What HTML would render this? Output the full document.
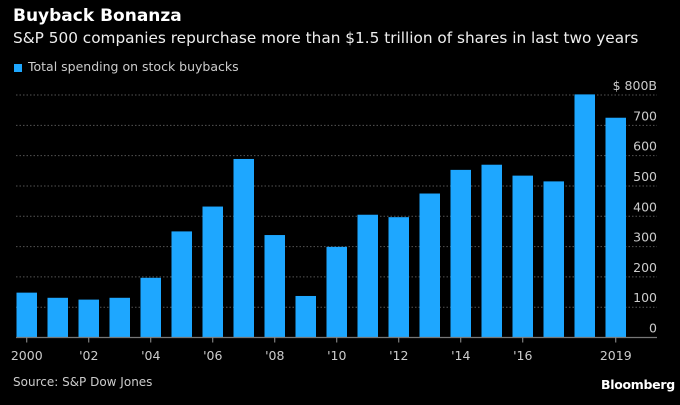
<!DOCTYPE html>
<html><head><meta charset="utf-8"><style>
body{margin:0;background:#000;width:680px;height:405px;overflow:hidden;font-family:"DejaVu Sans","Liberation Sans",sans-serif;color:#fff}
.t{position:absolute;white-space:nowrap}
</style></head><body>
<div class="t" style="left:13px;top:6px;font-size:17px;font-weight:bold">Buyback Bonanza</div>
<div class="t" style="left:13px;top:29px;font-size:15.3px;color:#eee">S&amp;P 500 companies repurchase more than $1.5 trillion of shares in last two years</div>
<div style="position:absolute;left:14px;top:64px;width:8px;height:8px;background:#1ea7ff"></div>
<div class="t" style="left:28px;top:59px;font-size:12.5px;color:#ccc">Total spending on stock buybacks</div>
<svg id="c" width="680" height="405" style="position:absolute;left:0;top:0"></svg>
<div class="t" style="left:13px;top:375px;font-size:12px;color:#ccc">Source: S&amp;P Dow Jones</div>
<div class="t" style="left:601px;top:377px;font-size:12.5px;font-weight:bold;letter-spacing:-0.3px">Bloomberg</div>
<script>
const years=[2000,2001,2002,2003,2004,2005,2006,2007,2008,2009,2010,2011,2012,2013,2014,2015,2016,2017,2018,2019];
const values=[148,131,125,131,197,350,432,589,338,137,299,405,397,475,553,570,534,515,802,725];
const yTicks=[0,100,200,300,400,500,600,700,800];
const yTickLabels=["0","100","200","300","400","500","600","700","$ 800B"];
const xLabels={2000:"2000",2002:"'02",2004:"'04",2006:"'06",2008:"'08",2010:"'10",2012:"'12",2014:"'14",2016:"'16",2019:"2019"};
const NS="http://www.w3.org/2000/svg";
const svg=document.getElementById('c');
const base=337.5, yTop=95, x0=16.5, pitch=31.0, bw=20.5;
const y=v=>base-(base-yTop)*v/800;
const x=i=>x0+i*pitch;
function mk(t,a){const e=document.createElementNS(NS,t);for(const k in a)e.setAttribute(k,a[k]);svg.appendChild(e);return e;}
yTicks.forEach((v,i)=>{
  if(v>0){const g=mk('line',{x1:16,x2:657,y1:y(v),y2:y(v),stroke:'#555','stroke-dasharray':'1.5,2','stroke-width':1});
  
  }
  const t=mk('text',{x:657,y:y(v)-5,'text-anchor':'end','font-size':12.5,fill:'#ccc','font-family':'DejaVu Sans, Liberation Sans, sans-serif'});
  t.textContent=yTickLabels[i];
  
  
});
values.forEach((v,i)=>{
  const r=mk('rect',{x:x(i),y:y(v),width:bw,height:base-y(v),fill:'#1ea7ff'});
  
  
});
const ax=mk('line',{x1:16,x2:657,y1:base,y2:base,stroke:'#777','stroke-width':1.2});


years.forEach((yr,i)=>{
  if(!(yr in xLabels))return;
  const cx=x(i)+bw/2;
  const tk=mk('line',{x1:cx,x2:cx,y1:base,y2:base+5,stroke:'#999'});
  
  
  const t=mk('text',{x:cx,y:360,'text-anchor':'middle','font-size':12.5,fill:'#ccc','font-family':'DejaVu Sans, Liberation Sans, sans-serif'});
  t.textContent=xLabels[yr];
  
  
});
</script>
</body></html>
